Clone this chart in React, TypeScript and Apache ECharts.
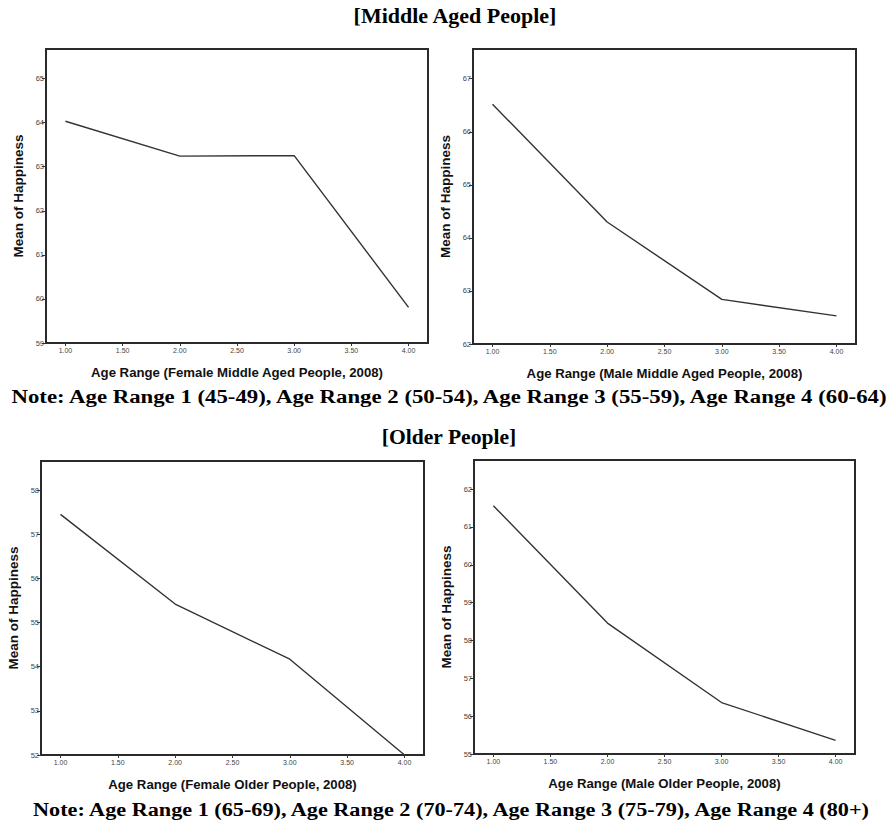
import React, { useEffect, useRef } from "react";
import * as echarts from "echarts";

// Age range categories (x values)
const ageRanges = [1, 2, 3, 4];

// Mean of Happiness per panel
const femaleMiddle = [64.03, 63.24, 63.25, 59.81];
const maleMiddle = [66.52, 64.3, 62.84, 62.53];
const femaleOlder = [57.45, 55.42, 54.17, 52.0];
const maleOlder = [61.56, 58.46, 56.36, 55.36];

// Tick labels
const xTickValues = [1, 1.5, 2, 2.5, 3, 3.5, 4];
const yTicksFM = [59, 60, 61, 62, 63, 64, 65];
const yTicksMM = [62, 63, 64, 65, 66, 67];
const yTicksFO = [52, 53, 54, 55, 56, 57, 58];
const yTicksMO = [55, 56, 57, 58, 59, 60, 61, 62];

const xTitles = [
  "Age Range (Female Middle Aged People, 2008)",
  "Age Range (Male Middle Aged People, 2008)",
  "Age Range (Female Older People, 2008)",
  "Age Range (Male Older People, 2008)",
];
const yTitle = "Mean of Happiness";
const titleMiddle = "[Middle Aged People]";
const titleOlder = "[Older People]";
const noteMiddle = "Note: Age Range 1 (45-49), Age Range 2 (50-54), Age Range 3 (55-59), Age Range 4 (60-64)";
const noteOlder = "Note: Age Range 1 (65-69), Age Range 2 (70-74), Age Range 3 (75-79), Age Range 4 (80+)";

const panelData = [
  { values: femaleMiddle, yTicks: yTicksFM, yMax: 65.67 },
  { values: maleMiddle, yTicks: yTicksMM, yMax: 67.56 },
  { values: femaleOlder, yTicks: yTicksFO, yMax: 58.66 },
  { values: maleOlder, yTicks: yTicksMO, yMax: 62.77 },
];

const gridLayout = [
  { left: 46, top: 49, width: 382, height: 294 },
  { left: 473, top: 49, width: 383, height: 295 },
  { left: 41, top: 461, width: 383, height: 294 },
  { left: 474, top: 460, width: 381, height: 294 },
];

const X_MIN = 0.83;
const X_MAX = 4.17;

export default function App() {
  const ref = useRef<HTMLDivElement>(null);
  useEffect(() => {
    document.body.style.margin = "0";
    const chart = echarts.init(ref.current!, undefined, { renderer: "svg" });
    const frameColor = "#2a2a2a";
    const sans = "Liberation Sans, Arial, sans-serif";
    const grids = gridLayout.map((g) => ({
      ...g,
      show: true,
      borderColor: frameColor,
      borderWidth: 2,
      backgroundColor: "#fff",
      containLabel: false,
    }));
    const xAxes = panelData.map((p, i) => ({
      type: "value",
      gridIndex: i,
      min: X_MIN,
      max: X_MAX,
      name: xTitles[i],
      nameLocation: "middle",
      nameGap: 23,
      nameTextStyle: { fontFamily: sans, fontWeight: "bold", fontSize: 13.2, color: "#111" },
      axisLine: { show: true, lineStyle: { color: frameColor, width: 2 } },
      axisTick: { show: true, length: 3, customValues: xTickValues, lineStyle: { color: "#333", width: 1 } },
      axisLabel: {
        show: true,
        customValues: xTickValues,
        formatter: (v: number) => v.toFixed(2),
        fontSize: 7,
        color: "#444",
        margin: 4,
        fontFamily: sans,
      },
      splitLine: { show: false },
    }));
    const yAxes = panelData.map((p, i) => ({
      type: "value",
      gridIndex: i,
      min: p.yTicks[0],
      max: p.yMax,
      name: yTitle,
      nameLocation: "middle",
      nameRotate: 90,
      nameGap: 21,
      nameTextStyle: { fontFamily: sans, fontWeight: "bold", fontSize: 13.5, color: "#111" },
      axisLine: { show: true, lineStyle: { color: frameColor, width: 2 } },
      axisTick: { show: true, length: 4, customValues: p.yTicks, lineStyle: { color: "#333", width: 1 } },
      axisLabel: {
        show: true,
        customValues: p.yTicks,
        fontSize: 7.5,
        color: "#444",
        margin: 2,
        fontFamily: sans,
      },
      splitLine: { show: false },
    }));
    const series = panelData.map((p, i) => ({
      type: "line",
      xAxisIndex: i,
      yAxisIndex: i,
      data: ageRanges.map((a, k) => [a, p.values[k]]),
      showSymbol: false,
      symbol: "none",
      lineStyle: { color: "#333", width: 1.4 },
    }));
    const serif = "Liberation Serif, Times New Roman, serif";
    const titleText = (text: string, x: number, y: number, size: number, sx: number) => ({
      type: "text",
      x,
      y,
      scaleX: sx,
      style: {
        text,
        font: `bold ${size}px ${serif}`,
        fill: "#000",
        textAlign: "center",
        textVerticalAlign: "middle",
      },
    });
    chart.setOption({
      animation: false,
      backgroundColor: "#fff",
      grid: grids,
      xAxis: xAxes,
      yAxis: yAxes,
      series,
      graphic: [
        titleText(titleMiddle, 455, 16, 20, 1.1),
        titleText(noteMiddle, 449, 397, 19, 1.2),
        titleText(titleOlder, 449, 437, 20, 1.08),
        titleText(noteOlder, 451, 810, 19, 1.17),
      ],
    });
    return () => chart.dispose();
  }, []);
  return <div ref={ref} style={{ width: 890, height: 826 }} />;
}
